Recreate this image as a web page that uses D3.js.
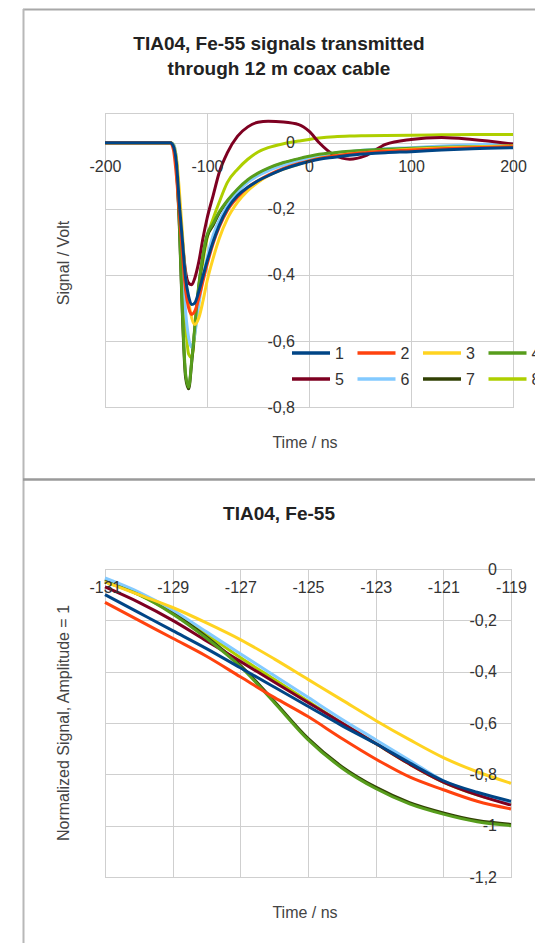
<!DOCTYPE html>
<html>
<head>
<meta charset="utf-8">
<script src="https://cdn.jsdelivr.net/npm/d3@7"></script>
<style>
  body { margin: 0; background: #fff; }
  text { font-family: "Liberation Sans", Arial, sans-serif; }
</style>
</head>
<body>
<div id="chart"></div>
<script>
// series names + LibreOffice default palette
var seriesNames = ["1", "2", "3", "4", "5", "6", "7", "8"];
var seriesColors = ["#004586", "#ff420e", "#ffd320", "#579d1c", "#7e0021", "#83caff", "#314004", "#aecf00"];

// top chart: raw signals (ns, Volt)
var signalTime = [-200, -136, -133, -130, -127, -124, -121, -118, -115, -112, -108, -104, -100, -94, -88, -80, -70, -60, -50, -40, -25, -10, 0, 10, 25, 40, 55, 75, 100, 130, 160, 200];
var signal1 = [0, 0, -0.01, -0.06, -0.19, -0.3, -0.41, -0.465, -0.49, -0.485, -0.45, -0.405, -0.36, -0.3, -0.25, -0.2, -0.16, -0.135, -0.115, -0.1, -0.08, -0.065, -0.057, -0.05, -0.044, -0.038, -0.034, -0.03, -0.027, -0.022, -0.018, -0.015];
var signal2 = [0, 0, -0.02, -0.1, -0.22, -0.34, -0.447, -0.5, -0.52, -0.51, -0.47, -0.42, -0.37, -0.305, -0.255, -0.205, -0.165, -0.135, -0.115, -0.098, -0.078, -0.063, -0.055, -0.048, -0.04, -0.034, -0.03, -0.026, -0.022, -0.018, -0.015, -0.012];
var signal3 = [0, 0, -0.01, -0.045, -0.15, -0.28, -0.41, -0.48, -0.53, -0.55, -0.53, -0.48, -0.42, -0.35, -0.29, -0.23, -0.18, -0.145, -0.12, -0.1, -0.08, -0.065, -0.055, -0.047, -0.04, -0.034, -0.03, -0.025, -0.02, -0.016, -0.013, -0.01];
var signal4 = [0, 0, -0.01, -0.07, -0.25, -0.52, -0.7, -0.74, -0.66, -0.56, -0.43, -0.34, -0.28, -0.245, -0.21, -0.175, -0.14, -0.112, -0.092, -0.077, -0.06, -0.048, -0.041, -0.035, -0.03, -0.026, -0.023, -0.02, -0.017, -0.014, -0.012, -0.01];
var signal5 = [0, 0, -0.01, -0.06, -0.18, -0.3, -0.39, -0.425, -0.43, -0.41, -0.36, -0.29, -0.23, -0.16, -0.09, -0.03, 0.02, 0.048, 0.062, 0.065, 0.063, 0.055, 0.035, 0.0, -0.038, -0.05, -0.04, -0.005, 0.01, 0.016, 0.01, -0.004];
var signal6 = [0, 0, -0.005, -0.05, -0.2, -0.36, -0.51, -0.59, -0.62, -0.58, -0.49, -0.41, -0.35, -0.28, -0.235, -0.19, -0.15, -0.12, -0.1, -0.085, -0.068, -0.055, -0.047, -0.04, -0.033, -0.027, -0.022, -0.018, -0.015, -0.01, -0.006, -0.003];
var signal7 = [0, 0, -0.01, -0.075, -0.26, -0.53, -0.71, -0.745, -0.665, -0.565, -0.435, -0.345, -0.285, -0.25, -0.213, -0.178, -0.143, -0.115, -0.094, -0.079, -0.062, -0.05, -0.043, -0.037, -0.032, -0.028, -0.024, -0.021, -0.018, -0.015, -0.013, -0.011];
var signal8 = [0, 0, -0.005, -0.05, -0.22, -0.39, -0.55, -0.64, -0.65, -0.58, -0.46, -0.36, -0.29, -0.23, -0.18, -0.12, -0.08, -0.05, -0.028, -0.015, -0.003, 0.005, 0.01, 0.014, 0.018, 0.02, 0.021, 0.022, 0.023, 0.024, 0.025, 0.025];

// bottom chart: normalized leading edge
var normTime = [-131, -130, -129, -128, -127, -126, -125, -124, -123, -122, -121, -120, -119];
var norm1 = [-0.1, -0.17, -0.24, -0.31, -0.385, -0.46, -0.535, -0.61, -0.68, -0.755, -0.825, -0.87, -0.905];
var norm2 = [-0.13, -0.2, -0.27, -0.34, -0.42, -0.5, -0.575, -0.66, -0.74, -0.81, -0.86, -0.905, -0.935];
var norm3 = [-0.05, -0.1, -0.15, -0.21, -0.275, -0.35, -0.43, -0.51, -0.59, -0.665, -0.735, -0.79, -0.835];
var norm4 = [-0.05, -0.1, -0.175, -0.27, -0.38, -0.52, -0.665, -0.775, -0.855, -0.915, -0.955, -0.985, -1.0];
var norm5 = [-0.07, -0.13, -0.2, -0.28, -0.36, -0.44, -0.52, -0.6, -0.68, -0.76, -0.83, -0.88, -0.92];
var norm6 = [-0.035, -0.09, -0.16, -0.245, -0.33, -0.415, -0.5, -0.585, -0.665, -0.745, -0.825, -0.875, -0.91];
var norm7 = [-0.04, -0.095, -0.17, -0.265, -0.375, -0.515, -0.66, -0.77, -0.85, -0.91, -0.95, -0.98, -0.995];
var norm8 = [-0.045, -0.1, -0.17, -0.255, -0.345, -0.43, -0.515, -0.6, -0.68, -0.76, -0.83, -0.88, -0.915];

var signalTicksX = [-200, -100, 0, 100, 200];
var signalTicksY = [0, -0.2, -0.4, -0.6, -0.8];
var normTicksX = [-131, -129, -127, -125, -123, -121, -119];
var normTicksY = [0, -0.2, -0.4, -0.6, -0.8, -1, -1.2];

var signals = [signal1, signal2, signal3, signal4, signal5, signal6, signal7, signal8];
var norms = [norm1, norm2, norm3, norm4, norm5, norm6, norm7, norm8];

var W = 535, H = 943;
var svg = d3.select("#chart").append("svg")
    .attr("width", W)
    .attr("height", H);

// frame
svg.append("line").attr("x1", 23).attr("x2", W).attr("y1", 9.5).attr("y2", 9.5)
    .style("stroke", "#a8a8a8").style("stroke-width", 2);
svg.append("line").attr("x1", 23.5).attr("x2", 23.5).attr("y1", 9).attr("y2", H)
    .style("stroke", "#b8b8b8").style("stroke-width", 2);
svg.append("line").attr("x1", 23).attr("x2", W).attr("y1", 479.5).attr("y2", 479.5)
    .style("stroke", "#9a9a9a").style("stroke-width", 2.5);

var commaFmt = function(d) { return String(d).replace(".", ","); };

function drawChart(cfg) {
    var x = d3.scaleLinear().domain(cfg.xDomain).range(cfg.xRange),
        y = d3.scaleLinear().domain(cfg.yDomain).range(cfg.yRange);
    var g = svg.append("g");

    // grid
    g.selectAll(".vgrid").data(cfg.ticksX).enter().append("line")
        .attr("x1", function(d) { return Math.round(x(d)) + 0.5; })
        .attr("x2", function(d) { return Math.round(x(d)) + 0.5; })
        .attr("y1", cfg.yRange[1]).attr("y2", cfg.yRange[0])
        .style("stroke", "#cfcfcf");
    g.selectAll(".hgrid").data(cfg.ticksY).enter().append("line")
        .attr("x1", cfg.xRange[0]).attr("x2", cfg.xRange[1])
        .attr("y1", function(d) { return Math.round(y(d)) + 0.5; })
        .attr("y2", function(d) { return Math.round(y(d)) + 0.5; })
        .style("stroke", "#cfcfcf");
    g.append("rect")
        .attr("x", cfg.xRange[0] + 0.5).attr("y", cfg.yRange[1] + 0.5)
        .attr("width", cfg.xRange[1] - cfg.xRange[0])
        .attr("height", cfg.yRange[0] - cfg.yRange[1])
        .style("fill", "none").style("stroke", "#cfcfcf");

    // lines, last series first so series 1 ends on top
    var line = d3.line()
        .x(function(d) { return x(d[0]); })
        .y(function(d) { return y(d[1]); })
        .curve(d3.curveMonotoneX);
    for (var i = cfg.series.length - 1; i >= 0; i--) {
        var pts = cfg.time.map(function(t, j) { return [t, cfg.series[i][j]]; });
        g.append("path")
            .datum(pts)
            .attr("d", line)
            .style("fill", "none")
            .style("stroke", seriesColors[i])
            .style("stroke-width", 3)
            .style("stroke-linejoin", "round");
    }

    // axes crossing inside the plot
    var xAxis = g.append("g")
        .attr("transform", "translate(0," + y(0) + ")")
        .call(d3.axisBottom(x).tickValues(cfg.ticksX).tickSize(0).tickPadding(cfg.xPad).tickFormat(commaFmt));
    var yAxis = g.append("g")
        .attr("transform", "translate(" + x(cfg.yAxisAt) + ",0)")
        .call(d3.axisLeft(y).tickValues(cfg.ticksY).tickSize(0).tickPadding(14).tickFormat(commaFmt));
    [xAxis, yAxis].forEach(function(a) {
        a.select(".domain").remove();
        a.selectAll("text")
            .style("font-family", "'Liberation Sans', Arial, sans-serif")
            .style("font-size", "16px")
            .style("fill", "#333");
    });

    // titles
    cfg.title.forEach(function(t, k) {
        g.append("text")
            .attr("x", 279).attr("y", cfg.titleY + k * 25)
            .style("text-anchor", "middle")
            .style("font-size", "19px").style("font-weight", "bold")
            .style("fill", "#222")
            .text(t);
    });
    g.append("text")
        .attr("x", 305).attr("y", cfg.xTitleY)
        .style("text-anchor", "middle").style("font-size", "16px").style("fill", "#444")
        .text("Time / ns");
    g.append("text")
        .attr("transform", "translate(69," + cfg.yTitleY + ") rotate(-90)")
        .style("text-anchor", "middle").style("font-size", "16px").style("fill", "#444")
        .text(cfg.yTitle);
    return g;
}

var topChart = drawChart({
    xDomain: [-200, 200], xRange: [105, 513],
    yDomain: [-0.8, 0.09], yRange: [407, 113],
    ticksX: signalTicksX, ticksY: signalTicksY,
    time: signalTime, series: signals,
    yAxisAt: 0, xPad: 18,
    title: ["TIA04, Fe-55 signals transmitted", "through 12 m coax cable"], titleY: 50,
    xTitleY: 448, yTitle: "Signal / Volt", yTitleY: 263
});

drawChart({
    xDomain: [-131, -119], xRange: [105, 511],
    yDomain: [-1.2, 0], yRange: [877, 569],
    ticksX: normTicksX, ticksY: normTicksY,
    time: normTime, series: norms,
    yAxisAt: -119, xPad: 13,
    title: ["TIA04, Fe-55"], titleY: 520,
    xTitleY: 918, yTitle: "Normalized Signal, Amplitude = 1", yTitleY: 723
});

// legend of top chart
var legend = topChart.selectAll(".legend")
    .data(seriesNames)
  .enter().append("g")
    .attr("class", "legend")
    .attr("transform", function(d, i) { return "translate(" + (292 + (i % 4) * 65.5) + "," + (353 + Math.floor(i / 4) * 26) + ")"; });
legend.append("line")
    .attr("x1", 0).attr("x2", 38)
    .style("stroke", function(d, i) { return seriesColors[i]; })
    .style("stroke-width", 3.5);
legend.append("text")
    .attr("x", 43).attr("dy", ".35em")
    .style("font-size", "16px").style("fill", "#333")
    .text(function(d) { return d; });
</script>
</body>
</html>
